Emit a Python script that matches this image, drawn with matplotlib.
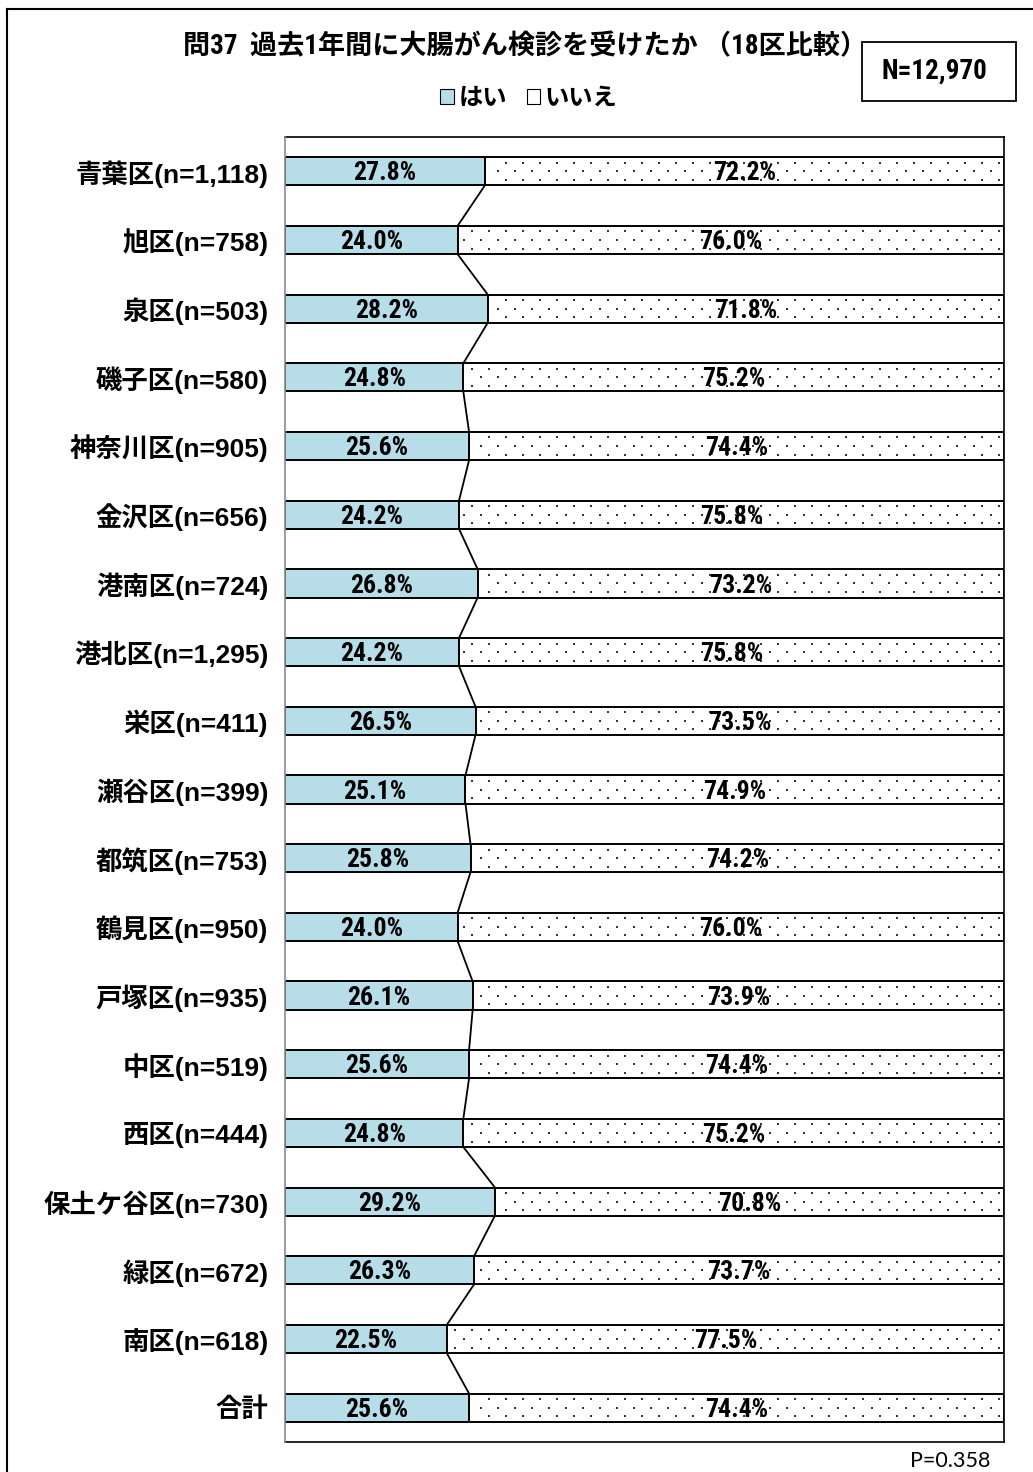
import matplotlib
matplotlib.use("Agg")
import numpy as np
import matplotlib.pyplot as plt
from matplotlib.patches import Rectangle, Patch
from matplotlib.lines import Line2D

# ---- data ----
categories = ["青葉区(n=1,118)", "旭区(n=758)", "泉区(n=503)", "磯子区(n=580)",
              "神奈川区(n=905)", "金沢区(n=656)", "港南区(n=724)", "港北区(n=1,295)",
              "栄区(n=411)", "瀬谷区(n=399)", "都筑区(n=753)", "鶴見区(n=950)",
              "戸塚区(n=935)", "中区(n=519)", "西区(n=444)", "保土ケ谷区(n=730)",
              "緑区(n=672)", "南区(n=618)", "合計"]
yes_pct = [27.8, 24.0, 28.2, 24.8, 25.6, 24.2, 26.8, 24.2, 26.5, 25.1,
           25.8, 24.0, 26.1, 25.6, 24.8, 29.2, 26.3, 22.5, 25.6]
no_pct = [72.2, 76.0, 71.8, 75.2, 74.4, 75.8, 73.2, 75.8, 73.5, 74.9,
          74.2, 76.0, 73.9, 74.4, 75.2, 70.8, 73.7, 77.5, 74.4]
series_names = ["はい", "いいえ"]
title = "問37  過去1年間に大腸がん検診を受けたか （18区比較）"
total_n = "N=12,970"
p_value = "P=0.358"

# ---- style ----
NARROW = ["Roboto Condensed", "Noto Sans CJK JP", "DejaVu Sans"]
LABEL = ["Liberation Sans", "Noto Sans CJK JP", "DejaVu Sans"]
CJK = ["Noto Sans CJK JP", "DejaVu Sans"]
YES_COLOR = "#B7DEE8"
DOT_COLOR = "#1F3864"

W, H = 1033, 1472
fig = plt.figure(figsize=(W / 100, H / 100), dpi=100)

def fx(px):
    return px / W

def fy(py):
    return 1 - py / H

ax_left, ax_right, ax_top, ax_bot = 285, 1004, 137, 1442
ax = fig.add_axes([fx(ax_left), fy(ax_bot), fx(ax_right - ax_left), (ax_bot - ax_top) / H])

n = len(categories)
ypos = np.arange(n)
bar_h = 0.41

# "はい" segments
ax.barh(ypos, yes_pct, height=bar_h, color=YES_COLOR, edgecolor="black",
        linewidth=1.4, zorder=2)
# "いいえ" segments
ax.barh(ypos, no_pct, left=yes_pct, height=bar_h, color="white",
        edgecolor="black", linewidth=1.4, zorder=2)

# dotted fill texture for the "いいえ" segments (three staggered rows per bar)
step = 17 / (ax_right - ax_left) * 100
grid = np.arange(0, 100 + step, step)
row_off = 0.125
for i in range(n):
    lo = yes_pct[i]
    for dy, shift in ((-row_off, 0.0), (0.0, step / 2), (row_off, 0.0)):
        xs = grid + shift
        xs = xs[(xs > lo + 0.6) & (xs < 99.7)]
        ax.scatter(xs, np.full(xs.shape, i + dy), s=2.8, marker="s",
                   color=DOT_COLOR, linewidths=0, zorder=3)

# series lines joining the segment boundaries
for i in range(n - 1):
    ax.plot([yes_pct[i], yes_pct[i + 1]], [i + bar_h / 2, i + 1 - bar_h / 2],
            color="black", linewidth=1.3, zorder=4)

# value labels
for i in range(n):
    ax.text(yes_pct[i] / 2, i + 0.03, f"{yes_pct[i]:.1f}%", ha="center", va="center",
            family=NARROW, fontweight="bold", fontsize=18.5, zorder=5)
    ax.text(yes_pct[i] + no_pct[i] / 2, i + 0.03, f"{no_pct[i]:.1f}%", ha="center",
            va="center", family=NARROW, fontweight="bold", fontsize=18.5, zorder=5)

ax.set_xlim(0, 100)
ax.set_ylim(n - 0.5, -0.5)
ax.set_yticks(ypos)
ax.set_yticklabels(categories, family=LABEL, fontweight="bold", fontsize=19)
ax.tick_params(axis="y", length=0, pad=12)
ax.set_xticks([])
for side in ("top", "right", "bottom"):
    ax.spines[side].set_color("black")
    ax.spines[side].set_linewidth(1.2)
ax.spines["left"].set_color("#8c8c8c")
ax.spines["left"].set_linewidth(1.2)
ax.spines["left"].set_zorder(6)

# legend
handles = [Patch(facecolor=YES_COLOR, edgecolor="black", linewidth=0.8),
           Patch(facecolor="white", edgecolor="black", linewidth=0.8)]
leg = fig.legend(handles, series_names, loc="center", bbox_to_anchor=(fx(529), fy(98)),
                 ncol=2, frameon=False, handlelength=0.55, handleheight=0.55,
                 handletextpad=0.2, columnspacing=0.8,
                 prop={"family": CJK, "weight": "bold", "size": 17.5})

# title
fig.text(fx(525), fy(47), title, ha="center", va="center", family=NARROW,
         fontweight="bold", fontsize=19.5)

# N box
fig.patches.append(Rectangle((fx(862), fy(101)), fx(1016 - 862), (101 - 42) / H,
                             transform=fig.transFigure, facecolor="white",
                             edgecolor="black", linewidth=1.3))
fig.text(fx(934), fy(71), total_n, ha="center", va="center", family=NARROW,
         fontweight="bold", fontsize=19.5)

# p value
fig.text(fx(990), fy(1461), p_value, ha="right", va="center",
         family=["Lato", "DejaVu Sans"], fontsize=15.5)

# outer frame (open at right and bottom)
fig.lines.append(Line2D([fx(7), fx(7)], [fy(9), 0], transform=fig.transFigure,
                        color="black", linewidth=1.5))
fig.lines.append(Line2D([fx(7), 1], [fy(9), fy(9)], transform=fig.transFigure,
                        color="black", linewidth=1.5))

fig.savefig("out.png", dpi=100)
